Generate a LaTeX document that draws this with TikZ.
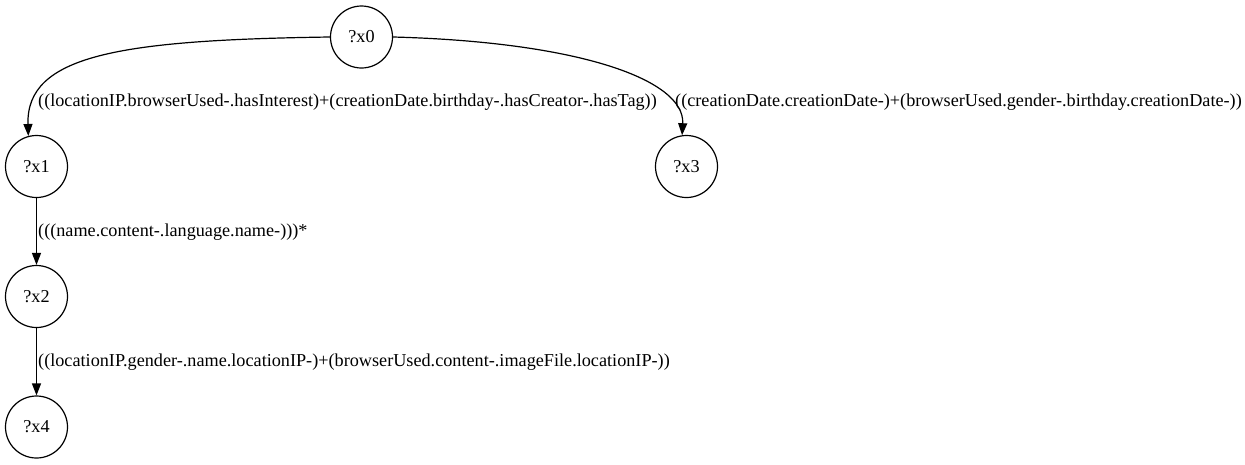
\documentclass[tikz,border=0pt]{standalone}
\usepackage{fontspec}
\setmainfont{Liberation Serif}
\usetikzlibrary{arrows.meta}
\begin{document}
\begin{tikzpicture}[x=1pt,y=-1pt,
  vnode/.style={circle,draw=black,line width=1.2pt,minimum size=62pt,inner sep=0pt,font=\fontsize{18.2}{20}\selectfont},
  edge/.style={draw=black,line width=1.2pt,-{Triangle[length=12pt,width=9pt]}},
  lbl/.style={anchor=west,inner sep=0pt,font=\fontsize{18.2}{20}\selectfont}]
\useasboundingbox (0,0) rectangle (1245,464);
\node[vnode] (x0) at (361.5,37) {?x0};
\node[vnode] (x1) at (36.5,166.5) {?x1};
\node[vnode] (x3) at (686.5,166.5) {?x3};
\node[vnode] (x2) at (36.5,296.5) {?x2};
\node[vnode] (x4) at (36.5,427) {?x4};
\draw[edge] (x0.west) .. controls (120,40) and (26,55) .. (x1.105);
\draw[edge] (x0.east) .. controls (580,42) and (685,80) .. (x3.98);
\draw[edge] (x1) -- (x2);
\draw[edge] (x2) -- (x4);
\node[lbl] (l1) at (38,102) {((locationIP.browserUsed-.hasInterest)+(creationDate.birthday-.hasCreator-.hasTag))};
\node[lbl] (l2) at (675,102) {((creationDate.creationDate-)+(browserUsed.gender-.birthday.creationDate-))};
\node[lbl] (l3) at (38,232) {(((name.content-.language.name-)))*};
\node[lbl] (l4) at (38,362) {((locationIP.gender-.name.locationIP-)+(browserUsed.content-.imageFile.locationIP-))};
\end{tikzpicture}
\end{document}
